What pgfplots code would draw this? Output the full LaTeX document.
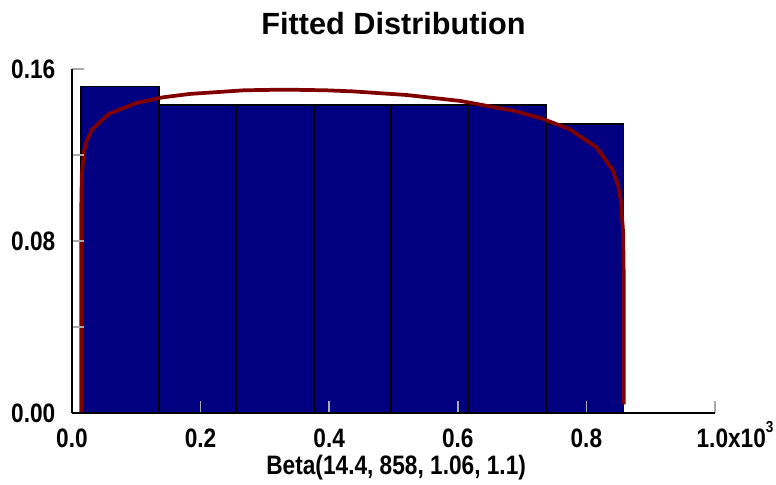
\documentclass[border=0pt]{standalone}
\usepackage{fontspec}
\setmainfont{Liberation Sans}
\newfontfamily\narrowfont{Liberation Sans}[FakeStretch=0.85]
\usepackage{pgfplots}
\pgfplotsset{compat=1.18}
\definecolor{barblue}{RGB}{0,0,128}
\definecolor{fitred}{RGB}{128,0,0}
\definecolor{tickgray}{RGB}{170,170,170}

\begin{document}
\begin{tikzpicture}
\begin{axis}[
    scale only axis,
    width=482.25pt, height=258pt,
    at={(0,0)}, anchor=south west,
    xmin=0, xmax=1000, ymin=0, ymax=0.16,
    axis x line=bottom, axis y line=left,
    axis line style={-, black, line width=1.5pt},
    axis on top,
    xtick={0,200,400,600,800,1000},
    xticklabels={0.0,0.2,0.4,0.6,0.8,{}},
    ytick={0,0.08,0.16},
    minor ytick={0.04,0.12},
    yticklabels={0.00,0.08,0.16},
    tick align=inside,
    major tick length=9pt, minor tick length=9pt,
    tick style={tickgray, line width=1.2pt},
    ticklabel style={font=\narrowfont\fontsize{20}{22}\selectfont\bfseries},
    xticklabel style={anchor=base, yshift=-26pt},
    yticklabel style={anchor=east, xshift=-9pt},
    /pgf/number format/assume math mode=true,
    clip=false,
]
\addplot[ybar interval, fill=barblue, draw=black, line width=1.2pt] coordinates {
    (14.4,0.1518) (134.9,0.1433) (255.5,0.1433) (376.0,0.1433)
    (496.4,0.1433) (616.9,0.1433) (737.4,0.1343) (858.0,0.1343)
};
\addplot[fitred, line width=2.8pt, line join=round] coordinates {
    (14.40,0) (14.41,0.0838) (14.48,0.0962) (15.24,0.1105) (18.62,0.1216)
    (22.84,0.1267) (31.27,0.1319) (56.58,0.1390) (98.76,0.1441)
    (140.94,0.1468) (183.12,0.1484) (267.48,0.1501) (330.75,0.1504)
    (394.02,0.1501) (436.20,0.1496) (520.56,0.1479) (604.92,0.1451)
    (689.28,0.1404) (731.46,0.1369) (773.64,0.1320) (815.82,0.1235)
    (841.13,0.1129) (849.56,0.1054) (853.78,0.0984) (857.16,0.0838)
    (857.92,0.0666) (858.00,0.0040)
};
\node[anchor=base, font=\fontsize{23}{26}\selectfont\bfseries]
    at (rel axis cs:0.5,1) [yshift=25.5pt] {Fitted Distribution};
\node[anchor=base, font=\narrowfont\fontsize{20}{22}\selectfont\bfseries]
    at (rel axis cs:0.5,0) [xshift=2pt, yshift=-46pt] {Beta(14.4, 858, 1.06, 1.1)};
\node[anchor=base west, inner sep=0pt, font=\narrowfont\fontsize{20}{22}\selectfont\bfseries]
    at (rel axis cs:1,0) [xshift=-14pt, yshift=-26pt] {1.0x10\raisebox{1.1ex}{\fontsize{12}{13}\selectfont 3}};
\end{axis}
\pgfresetboundingbox
\path (-54pt,-54pt) rectangle (528pt,309.75pt);
\end{tikzpicture}
\end{document}
